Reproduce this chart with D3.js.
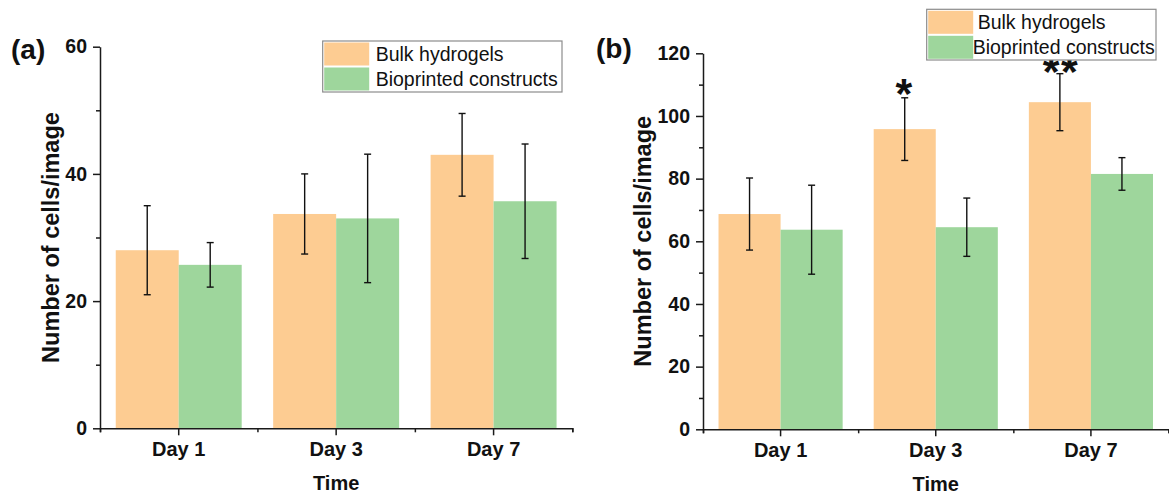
<!DOCTYPE html>
<html>
<head>
<meta charset="utf-8">
<script src="https://cdn.jsdelivr.net/npm/d3@7/dist/d3.min.js"></script>
<style>
  html, body { margin: 0; padding: 0; background: #fff; }
  svg { display: block; }
  text { font-family: "Liberation Sans", Arial, Helvetica, sans-serif; fill: #111; }
</style>
</head>
<body>
<svg id="chart" width="1169" height="496"></svg>
<script>
// ---------- data ----------
const days = ["Day 1", "Day 3", "Day 7"];
const seriesNames = ["Bulk hydrogels", "Bioprinted constructs"];

const bulkA    = [28.0, 33.7, 43.0];
const bulkAErr = [7.0, 6.3, 6.5];
const bioA     = [25.7, 33.0, 35.7];
const bioAErr  = [3.5, 10.1, 9.0];

const bulkB    = [68.7, 95.8, 104.4];
const bulkBErr = [11.5, 10.0, 9.1];
const bioB     = [63.7, 64.5, 81.5];
const bioBErr  = [14.2, 9.3, 5.2];

const sigB = ["", "*", "**"];

const yTicksA = [0, 20, 40, 60];
const yMinorA = [10, 30, 50];
const yTicksB = [0, 20, 40, 60, 80, 100, 120];
const yMinorB = [10, 30, 50, 70, 90, 110];

const xTitle = "Time";
const yTitle = "Number of cells/image";

// ---------- style ----------
const colors = ["#FDCC92", "#9ED69C"];
const axisColor = "#1a1a1a";

const svg = d3.select("#chart");
svg.append("rect").attr("width", 1169).attr("height", 496).attr("fill", "#fff");

function panel(cfg) {
  const g = svg.append("g");
  const x = d3.scaleBand().domain(days).range([cfg.left, cfg.right])
    .paddingInner(0.2).paddingOuter(0.1);
  const xs = d3.scaleBand().domain(seriesNames).range([0, x.bandwidth()]);
  const xLin = d3.scaleLinear().domain([0.5, days.length + 0.5]).range([cfg.left, cfg.right]);
  const y = d3.scaleLinear().domain([0, cfg.ymax]).range([cfg.bottom, cfg.top]);

  const rows = days.map((d, i) => ({
    day: d,
    vals: [
      { s: seriesNames[0], v: cfg.bulk[i], e: cfg.bulkErr[i], sig: cfg.sig ? cfg.sig[i] : "" },
      { s: seriesNames[1], v: cfg.bio[i], e: cfg.bioErr[i], sig: "" }
    ]
  }));

  // bars
  const grp = g.selectAll("g.cat").data(rows).join("g")
    .attr("transform", d => `translate(${x(d.day)},0)`);
  grp.selectAll("rect").data(d => d.vals).join("rect")
    .attr("x", d => xs(d.s))
    .attr("width", xs.bandwidth())
    .attr("y", d => y(d.v))
    .attr("height", d => y(0) - y(d.v))
    .attr("fill", (d, i) => colors[i]);

  // error bars
  const cap = 3.5;
  const eb = grp.selectAll("g.err").data(d => d.vals).join("g")
    .attr("stroke", "#111").attr("stroke-width", 1.4);
  eb.append("line")
    .attr("x1", d => xs(d.s) + xs.bandwidth() / 2).attr("x2", d => xs(d.s) + xs.bandwidth() / 2)
    .attr("y1", d => y(d.v - d.e)).attr("y2", d => y(d.v + d.e));
  eb.append("line")
    .attr("x1", d => xs(d.s) + xs.bandwidth() / 2 - cap).attr("x2", d => xs(d.s) + xs.bandwidth() / 2 + cap)
    .attr("y1", d => y(d.v + d.e)).attr("y2", d => y(d.v + d.e));
  eb.append("line")
    .attr("x1", d => xs(d.s) + xs.bandwidth() / 2 - cap).attr("x2", d => xs(d.s) + xs.bandwidth() / 2 + cap)
    .attr("y1", d => y(d.v - d.e)).attr("y2", d => y(d.v - d.e));

  // significance stars
  grp.selectAll("text.sig").data(d => d.vals.filter(v => v.sig)).join("text")
    .attr("class", "sig")
    .attr("x", d => xs(d.s) + xs.bandwidth() / 2 + (d.sig.length > 1 ? 1 : 0))
    .attr("y", d => y(d.v + d.e) + (d.sig.length > 1 ? 12.5 : 10.5))
    .attr("text-anchor", "middle")
    .style("font-size", "43px").style("font-weight", "bold")
    .style("letter-spacing", "1.5px")
    .text(d => d.sig);

  // axes
  const styleAxis = sel => {
    sel.selectAll("path, line").attr("stroke", axisColor).attr("stroke-width", 1.5);
    sel.selectAll("text").style("font-size", "19.5px").style("font-weight", "bold").attr("fill", "#111");
  };
  g.append("g").attr("transform", `translate(0,${cfg.bottom})`)
    .call(d3.axisBottom(xLin).tickValues(d3.range(0.5, days.length + 1, 1)).tickSize(4).tickFormat(""))
    .call(styleAxis);
  g.append("g").attr("transform", `translate(0,${cfg.bottom})`)
    .call(d3.axisBottom(x).tickSize(7).tickSizeOuter(0).tickPadding(7))
    .call(styleAxis)
    .call(s => s.select("path").remove())
    .selectAll("text").style("font-size", "20px");

  g.append("g").attr("transform", `translate(${cfg.left},0)`)
    .call(d3.axisLeft(y).tickValues(cfg.minor).tickSize(4).tickFormat(""))
    .call(styleAxis).call(s => s.select("path").remove());
  g.append("g").attr("transform", `translate(${cfg.left},0)`)
    .call(d3.axisLeft(y).tickValues(cfg.ticks).tickSize(7).tickSizeOuter(0).tickPadding(6))
    .call(styleAxis);

  // titles
  g.append("text")
    .attr("x", (cfg.left + cfg.right) / 2).attr("y", cfg.bottom + 62)
    .attr("text-anchor", "middle")
    .style("font-size", "20px").style("font-weight", "bold")
    .text(xTitle);
  g.append("text")
    .attr("transform", `translate(${cfg.ytitleX},${(cfg.top + cfg.bottom) / 2}) rotate(-90)`)
    .attr("text-anchor", "middle")
    .style("font-size", "23.5px").style("font-weight", "bold")
    .text(yTitle);
  g.append("text")
    .attr("x", cfg.labelX).attr("y", cfg.labelY)
    .style("font-size", "28px").style("font-weight", "bold")
    .text(cfg.label);

  // legend
  const L = cfg.legend;
  const lg = g.append("g");
  lg.append("rect").attr("x", L.x).attr("y", L.y).attr("width", L.w).attr("height", L.h)
    .attr("fill", "#fff").attr("stroke", "#8c8c8c").attr("stroke-width", 1.2);
  seriesNames.forEach((s, i) => {
    lg.append("rect").attr("x", L.x + 1.5).attr("y", L.y + 1.5 + i * 25)
      .attr("width", 45).attr("height", 23).attr("fill", colors[i]);
    lg.append("text").attr("x", L.x + L.tx[i]).attr("y", L.y + 19.5 + i * 25)
      .style("font-size", "19.5px")
      .text(s);
  });
}

panel({
  left: 100, right: 572.3, top: 46.7, bottom: 428.3, ymax: 60,
  ticks: yTicksA, minor: yMinorA,
  bulk: bulkA, bulkErr: bulkAErr, bio: bioA, bioErr: bioAErr, sig: null,
  ytitleX: 58.5, label: "(a)", labelX: 11, labelY: 59,
  legend: { x: 322.7, y: 41, w: 239.3, h: 51, tx: [53, 53] }
});

panel({
  left: 703, right: 1168.5, top: 53.3, bottom: 429.3, ymax: 120,
  ticks: yTicksB, minor: yMinorB,
  bulk: bulkB, bulkErr: bulkBErr, bio: bioB, bioErr: bioBErr, sig: sigB,
  ytitleX: 651, label: "(b)", labelX: 596, labelY: 58,
  legend: { x: 926.7, y: 9.3, w: 229.3, h: 50.7, tx: [51, 46] }
});
</script>
</body>
</html>
